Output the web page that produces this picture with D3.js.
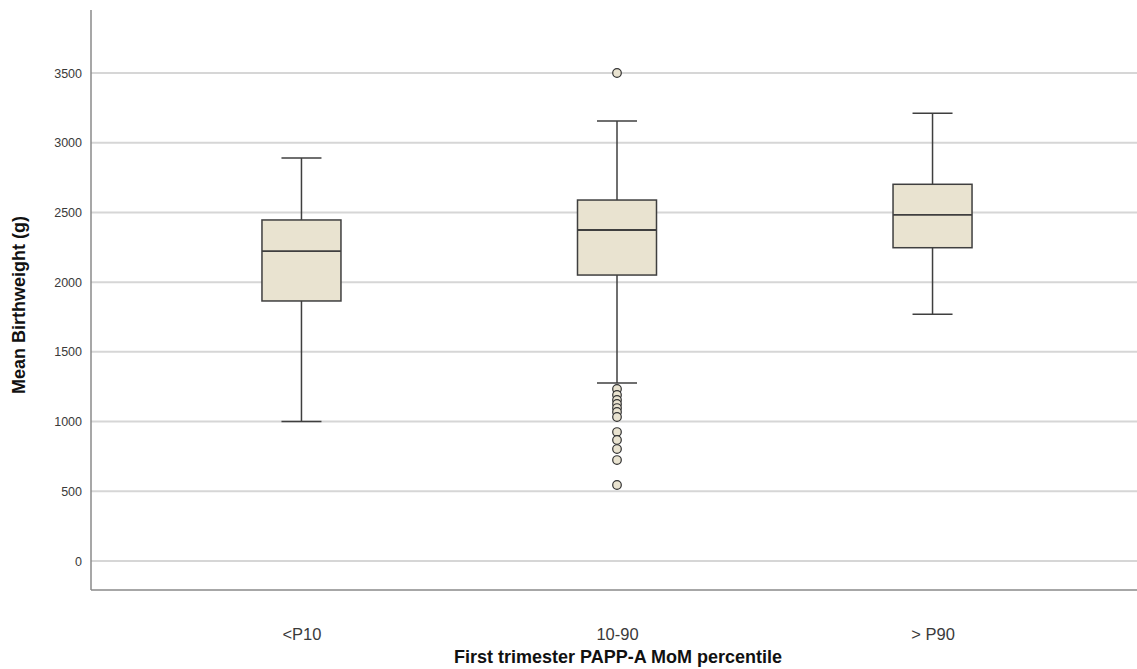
<!DOCTYPE html>
<html>
<head>
<meta charset="utf-8">
<script src="https://cdn.jsdelivr.net/npm/d3@7"></script>
<style>
  body { margin: 0; background: #fff; }
  svg { display: block; }
</style>
</head>
<body>
<script>
// data
var groups = ["<P10", "10-90", "> P90"];
var whiskerLow = [1000, 1277, 1769];
var q1 = [1865, 2051, 2247];
var median = [2223, 2374, 2482];
var q3 = [2446, 2589, 2702];
var whiskerHigh = [2890, 3156, 3212];
var outliers = [
    [],
    [3500, 1234, 1191, 1155, 1126, 1097, 1069, 1033, 925, 868, 803, 724, 545],
    []
];
var yTicks = [0, 500, 1000, 1500, 2000, 2500, 3000, 3500];

var width = 1137, height = 669;
var plotLeft = 91, plotRight = 1137, plotTop = 10, plotBottom = 590;
var boxWidth = 79, capWidth = 40;
var fill = "#e9e3d0", stroke = "#3f3f3f";

var svg = d3.select("body").append("svg")
    .attr("width", width)
    .attr("height", height);

var x = d3.scalePoint()
    .domain(groups)
    .range([97, plotRight])
    .padding(0.648);

var y = d3.scaleLinear()
    .domain([-208, 3952])
    .range([plotBottom, plotTop]);

// grid
svg.append("g").selectAll("line").data(yTicks).enter()
    .append("line")
    .attr("x1", plotLeft).attr("x2", plotRight)
    .attr("y1", function(d) { return y(d); })
    .attr("y2", function(d) { return y(d); })
    .attr("stroke", "#d6d6d6")
    .attr("stroke-width", 2);

// y axis
var yAxis = d3.axisLeft(y).tickValues(yTicks).tickFormat(d3.format("d")).tickSize(0).tickPadding(9);
var gy = svg.append("g").attr("transform", "translate(" + plotLeft + ",0)").call(yAxis);
gy.select(".domain").remove();
gy.selectAll("text")
    .attr("font-family", "Liberation Sans, Arial, sans-serif")
    .attr("font-size", 12.5)
    .attr("fill", "#3a3a3a");

// x axis
var xAxis = d3.axisBottom(x).tickSize(0).tickPadding(38);
var gx = svg.append("g").attr("transform", "translate(0," + plotBottom + ")").call(xAxis);
gx.select(".domain").remove();
gx.selectAll("text")
    .attr("font-family", "Liberation Sans, Arial, sans-serif")
    .attr("font-size", 16.5)
    .attr("fill", "#3a3a3a");

// axis lines
svg.append("line")
    .attr("x1", plotLeft).attr("x2", plotLeft).attr("y1", plotTop).attr("y2", plotBottom)
    .attr("stroke", "#8a8a8a").attr("stroke-width", 1.5);
svg.append("line")
    .attr("x1", plotLeft).attr("x2", plotRight).attr("y1", plotBottom).attr("y2", plotBottom)
    .attr("stroke", "#8a8a8a").attr("stroke-width", 1.5);

// boxes
var g = svg.append("g").selectAll("g").data(groups).enter()
    .append("g")
    .attr("transform", function(d) { return "translate(" + x(d) + ",0)"; });

// whisker stems
g.append("line")
    .attr("x1", 0).attr("x2", 0)
    .attr("y1", function(d, i) { return y(whiskerHigh[i]); })
    .attr("y2", function(d, i) { return y(whiskerLow[i]); })
    .attr("stroke", stroke).attr("stroke-width", 1.5);

// caps
g.append("line")
    .attr("x1", -capWidth / 2).attr("x2", capWidth / 2)
    .attr("y1", function(d, i) { return y(whiskerHigh[i]); })
    .attr("y2", function(d, i) { return y(whiskerHigh[i]); })
    .attr("stroke", stroke).attr("stroke-width", 1.5);
g.append("line")
    .attr("x1", -capWidth / 2).attr("x2", capWidth / 2)
    .attr("y1", function(d, i) { return y(whiskerLow[i]); })
    .attr("y2", function(d, i) { return y(whiskerLow[i]); })
    .attr("stroke", stroke).attr("stroke-width", 1.5);

g.append("rect")
    .attr("x", -boxWidth / 2)
    .attr("width", boxWidth)
    .attr("y", function(d, i) { return y(q3[i]); })
    .attr("height", function(d, i) { return y(q1[i]) - y(q3[i]); })
    .attr("fill", fill)
    .attr("stroke", stroke).attr("stroke-width", 1.5);

g.append("line")
    .attr("x1", -boxWidth / 2).attr("x2", boxWidth / 2)
    .attr("y1", function(d, i) { return y(median[i]); })
    .attr("y2", function(d, i) { return y(median[i]); })
    .attr("stroke", stroke).attr("stroke-width", 1.8);

// outliers
g.selectAll("circle")
    .data(function(d, i) { return outliers[i]; })
    .enter().append("circle")
    .attr("cx", 0)
    .attr("cy", function(d) { return y(d); })
    .attr("r", 4.3)
    .attr("fill", fill)
    .attr("stroke", "#333")
    .attr("stroke-width", 1.2);

// titles
svg.append("text")
    .attr("transform", "translate(25," + ((plotTop + plotBottom) / 2 + 5) + ") rotate(-90)")
    .attr("text-anchor", "middle")
    .attr("font-family", "Liberation Sans, Arial, sans-serif")
    .attr("font-size", 18)
    .attr("font-weight", "bold")
    .attr("fill", "#111")
    .text("Mean Birthweight (g)");

svg.append("text")
    .attr("x", 618)
    .attr("y", 663)
    .attr("text-anchor", "middle")
    .attr("font-family", "Liberation Sans, Arial, sans-serif")
    .attr("font-size", 18)
    .attr("font-weight", "bold")
    .attr("fill", "#111")
    .text("First trimester PAPP-A MoM percentile");
</script>
</body>
</html>
